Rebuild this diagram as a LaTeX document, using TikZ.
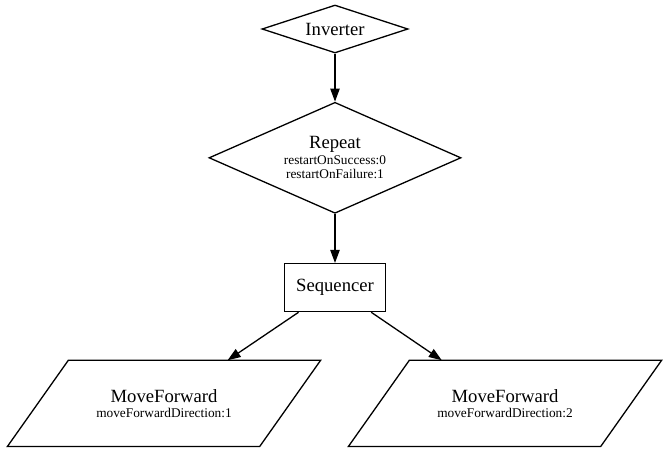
\documentclass[tikz,border=0pt]{standalone}
\usepackage{fontspec}
\setmainfont{Liberation Serif}
\usetikzlibrary{arrows.meta,shapes.geometric,positioning}

\newcommand{\param}[1]{{\fontsize{13.33}{15}\selectfont #1}}

\begin{document}
\begin{tikzpicture}[
        line width=1.3pt,
        >={Triangle[length=13pt,width=9.3pt]},
        every node/.style={draw, fill=white, align=center, inner sep=0pt, font=\fontsize{18.67}{19}\selectfont},
        decision/.style={diamond, aspect=2.3},
        composite/.style={rectangle, minimum width=101pt, minimum height=48pt},
        leaf/.style={rectangle, draw=none, fill=none, minimum width=251pt, minimum height=85pt}
    ]

  \useasboundingbox[fill=white] (0,0) rectangle (670pt,-448pt);

  % Nodes
  \node (inv) [decision, aspect=3, minimum width=146pt, minimum height=48pt] at (335pt,-29pt) {Inverter};
  \node (rep) [decision, below=48pt of inv, minimum width=252pt, minimum height=111pt] {Repeat\\[-3pt]\param{restartOnSuccess:0}\\[-5pt]\param{restartOnFailure:1}};
  \node (seq) [composite, below=49pt of rep] {Sequencer};
  \node (mf1) [leaf, below=48pt of seq, xshift=-171pt] {MoveForward\\[-4pt]\param{moveForwardDirection:1}};
  \node (mf2) [leaf, below=48pt of seq, xshift=170pt] {MoveForward\\[-4pt]\param{moveForwardDirection:2}};

  % parallelogram outlines of the leaves
  \foreach \n in {mf1,mf2}
    \draw ([xshift=30.5pt]\n.north west) -- ([xshift=30.5pt]\n.north east)
      -- ([xshift=-30.5pt]\n.south east) -- ([xshift=-30.5pt]\n.south west) -- cycle;

  \draw[->] (inv) -- (rep);
  \draw[->] (rep) -- (seq);
  \draw[->] (seq) -- (mf1);
  \draw[->] (seq) -- (mf2);
\end{tikzpicture}
\end{document}
